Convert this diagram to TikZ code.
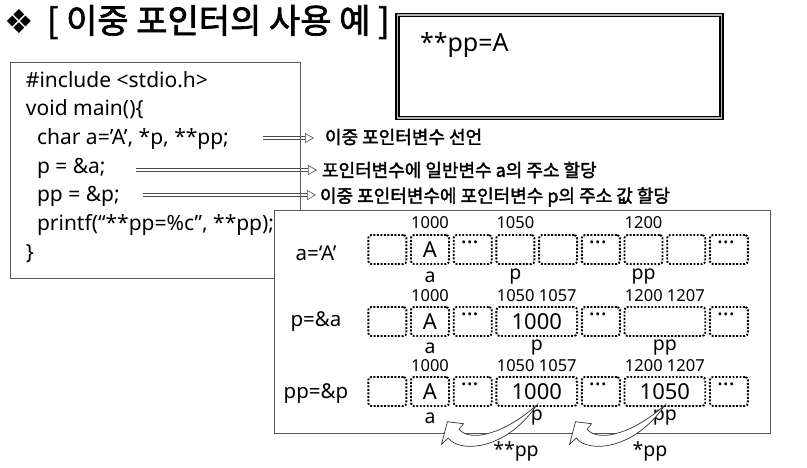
\documentclass[tikz,border=0pt]{standalone}
\usepackage{fontspec}
\setmainfont{Noto Sans}
\newfontfamily\kr{Noto Sans CJK KR}[AutoFakeBold=2]
\newfontfamily\djv{DejaVu Sans}
\usetikzlibrary{arrows.meta}
\newcommand\fsz[1]{\fontsize{#1}{#1}\selectfont}
\begin{document}
\begin{tikzpicture}[x=1pt,y=-1pt,
  every node/.style={inner sep=0pt, outer sep=0pt},
  codeline/.style={anchor=base west, font=\fsz{21}},
  note/.style={anchor=west, font=\kr\fsz{18}\bfseries},
  hollow/.style={draw=gray!60!black, line width=0.6pt, double=white, double distance=2.4pt,
    -{Triangle[open,length=9pt,width=10pt]}},
  framebox/.style={draw=gray!70!black, line width=1pt},
  strip/.style={draw=gray!70!black, line width=0.5pt, double=white, double distance=1.2pt,
    minimum width=398pt, minimum height=35pt},
  cell/.style={draw=black, line width=1.9pt, dash pattern=on 1.9pt off 1.6pt,
    rounded corners=3pt, minimum width=38pt, minimum height=29pt, font=\fsz{22}},
  wcell/.style={cell, minimum width=80.7pt},
  dots/.style={font=\fsz{22}\bfseries},
  addr/.style={font=\fsz{16.5}},
  vname/.style={font=\fsz{19.5}},
  rowlab/.style={font=\fsz{20.5}},
  curvy/.style={draw=gray!40!black, line width=0.7pt, fill=white}
]
\useasboundingbox (0,0) rectangle (807,467);

% title
\node[anchor=west, font=\fsz{33}\djv] (dia) at (5,22) {❖};
\node[anchor=west, font=\kr\fsz{34}\bfseries] (title) at (47,22) {[ 이중 포인터의 사용 예 ]};

% output box
\node[draw=black, line width=1.6pt, double=gray!60, double distance=1.4pt,
  minimum width=324pt, minimum height=103pt] (out) at (559.5,66.5) {};
\node[anchor=west, font=\fsz{25}] (outtxt) at (420,45) {**pp=A};

% annotation arrows and labels
\node[note] (n1) at (325,137) {이중 포인터변수 선언};
\node[note] (n2) at (322,170) {포인터변수에 일반변수 a의 주소 할당};
\node[note] (n3) at (320,197) {이중 포인터변수에 포인터변수 p의 주소 값 할당};
\coordinate (a1) at (263,138);
\coordinate (a2) at (136,170);
\coordinate (a3) at (143,195);
\draw[hollow, shorten >=11pt] (a1) -- (a1 -| n1.west);
\draw[hollow, shorten >=5pt] (a2) -- (a2 -| n2.west);
\draw[hollow, shorten >=4pt] (a3) -- (a3 -| n3.west);

% code box
\node[framebox, anchor=north west, minimum width=290pt, minimum height=216pt] (code) at (10,62) {};
\node[codeline] (l1) at (26,87) {\#include <stdio.h>};
\node[codeline] (l2) at (26,115.7) {void main()\{};
\node[codeline] (l3) at (37,144.4) {char a='A', *p, **pp;};
\node[codeline] (l4) at (37,173) {p = \&a;};
\node[codeline] (l5) at (37,201.8) {pp = \&p;};
\node[codeline] (l6) at (37,230.5) {printf(“**pp=\%c”, **pp);};
\node[codeline] (l7) at (26,259) {\}};

% diagram box
\node[framebox, fill=white, anchor=north west, minimum width=496pt, minimum height=223pt] (diag) at (274,210) {};

% ---- row 1
\node[rowlab] (lab1) at (316,253) {a=‘A’};
\node[strip] (st1) at (558,249.5) {};
\node[cell] (c11) at (387.3,249.5) {};
\node[cell] (c12) at (430.0,249.5) {A};
\node[cell] (c13) at (472.7,249.5) {};
\node[cell] (c14) at (515.4,249.5) {};
\node[cell] (c15) at (558.1,249.5) {};
\node[cell] (c16) at (600.8,249.5) {};
\node[cell] (c17) at (643.5,249.5) {};
\node[cell] (c18) at (686.2,249.5) {};
\node[cell] (c19) at (728.9,249.5) {};
\node[dots] (d13) at ([xshift=-3pt,yshift=7pt]c13.center) {...};
\node[dots] (d16) at ([xshift=-3pt,yshift=7pt]c16.center) {...};
\node[dots] (d19) at ([xshift=-3pt,yshift=7pt]c19.center) {...};
\node[addr] (t11) at (430.0,222.5) {1000};
\node[addr] (t12) at (515.4,222.5) {1050};
\node[addr] (t13) at (643.5,222.5) {1200};
\node[vname] (v11) at (430.0,277) {a};
\node[vname] (v12) at (515.4,277) {p};
\node[vname] (v13) at (643.5,277) {pp};

% ---- row 2
\node[rowlab] (lab2) at (316,322) {p=\&a};
\node[strip] (st2) at (558,321.5) {};
\node[cell] (c21) at (387.3,321.5) {};
\node[cell] (c22) at (430.0,321.5) {A};
\node[cell] (c23) at (472.7,321.5) {};
\node[wcell] (c24) at (536.75,321.5) {1000};
\node[cell] (c26) at (600.8,321.5) {};
\node[wcell] (c27) at (664.85,321.5) {};
\node[cell] (c29) at (728.9,321.5) {};
\node[dots] (d23) at ([xshift=-3pt,yshift=7pt]c23.center) {...};
\node[dots] (d26) at ([xshift=-3pt,yshift=7pt]c26.center) {...};
\node[dots] (d29) at ([xshift=-3pt,yshift=7pt]c29.center) {...};
\node[addr] (t21) at (430.0,295.5) {1000};
\node[addr] (t22) at (536.75,295.5) {1050 1057};
\node[addr] (t23) at (664.85,295.5) {1200 1207};
\node[vname] (v21) at (430.0,348) {a};
\node[vname] (v22) at (536.75,348) {p};
\node[vname] (v23) at (664.85,348) {pp};

% ---- row 3
\node[rowlab] (lab3) at (316,394) {pp=\&p};
\node[strip] (st3) at (558,391.5) {};
\node[cell] (c31) at (387.3,391.5) {};
\node[cell] (c32) at (430.0,391.5) {A};
\node[cell] (c33) at (472.7,391.5) {};
\node[wcell] (c34) at (536.75,391.5) {1000};
\node[cell] (c36) at (600.8,391.5) {};
\node[wcell] (c37) at (664.85,391.5) {1050};
\node[cell] (c39) at (728.9,391.5) {};
\node[dots] (d33) at ([xshift=-3pt,yshift=7pt]c33.center) {...};
\node[dots] (d36) at ([xshift=-3pt,yshift=7pt]c36.center) {...};
\node[dots] (d39) at ([xshift=-3pt,yshift=7pt]c39.center) {...};
\node[addr] (t31) at (430.0,365.5) {1000};
\node[addr] (t32) at (536.75,365.5) {1050 1057};
\node[addr] (t33) at (664.85,365.5) {1200 1207};
\node[vname] (v31) at (430.0,418) {a};
\node[vname] (v32) at (536.75,418) {p};
\node[vname] (v33) at (664.85,418) {pp};

% curved hollow arrows
\begin{scope}[shift={(c34.south)}]
\draw[curvy] (0,-1) .. controls (-31,27) and (-66,37) .. (-77.7,23.3) -- (-73.3,17.7)
  -- (-89.3,15.7) -- (-95.3,38.3) -- (-88.5,32) .. controls (-78,47) and (-31,45) .. (0,-1) -- cycle;
\end{scope}
\begin{scope}[shift={(c37.south)}]
\draw[curvy] (0,-1) .. controls (-31,27) and (-66,37) .. (-77.7,23.3) -- (-73.3,17.7)
  -- (-89.3,15.7) -- (-95.3,38.3) -- (-88.5,32) .. controls (-78,47) and (-31,45) .. (0,-1) -- cycle;
\end{scope}
\node[vname] (pp2) at (516,451) {**pp};
\node[vname] (pp1) at (650,451) {*pp};
\end{tikzpicture}
\end{document}
